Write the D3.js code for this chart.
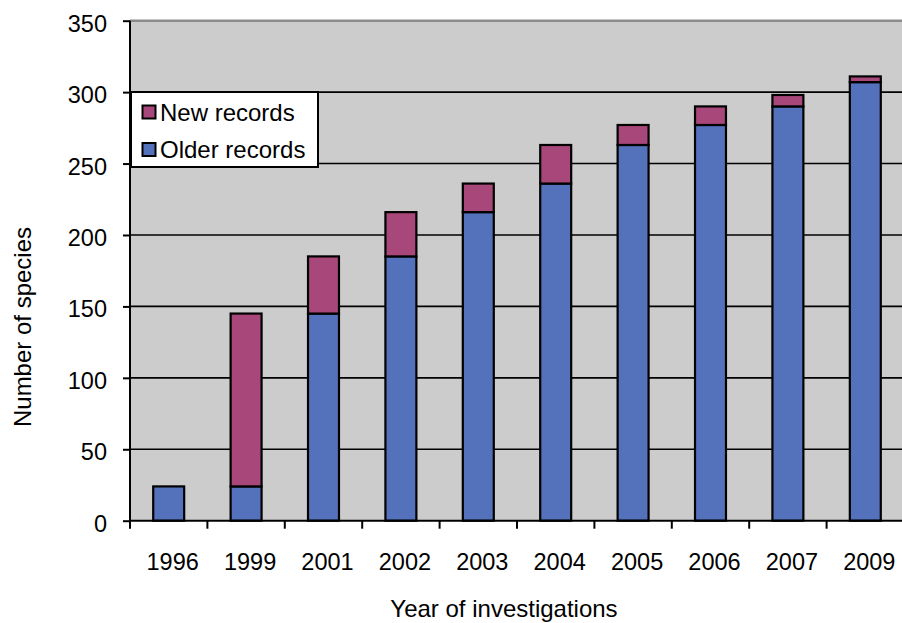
<!DOCTYPE html>
<html>
<head>
<meta charset="utf-8">
<script src="https://cdn.jsdelivr.net/npm/d3@7"></script>
<style>
  html, body { margin: 0; padding: 0; background: #fff; }
  svg { display: block; }
  text { font-family: "Liberation Sans", Arial, Helvetica, sans-serif; fill: #000; }
</style>
</head>
<body>
<svg id="chart" width="902" height="623"></svg>
<script>
const years = ["1996", "1999", "2001", "2002", "2003", "2004", "2005", "2006", "2007", "2009"];
const olderRecords = [24, 24, 145, 185, 216, 236, 263, 277, 290, 307];
const newRecords = [0, 121, 40, 31, 20, 27, 14, 13, 8, 4];
const yTicks = [0, 50, 100, 150, 200, 250, 300, 350];
const seriesNames = ["Older records", "New records"];
const seriesColors = ["#5472bb", "#a8477a"];

(function () {
const svg = d3.select("#chart");
const pLeft = 130, pRight = 904, pTop = 20.7, pBottom = 520.7;
const tickFont = 23.5, titleFont = 24;

const x = d3.scaleBand().domain(years).range([pLeft, pRight]).padding(0);
const y = d3.scaleLinear().domain([0, 350]).range([pBottom, pTop]);

// plot background
svg.append("rect")
  .attr("x", pLeft).attr("y", pTop)
  .attr("width", pRight - pLeft).attr("height", pBottom - pTop)
  .attr("fill", "#cccccc");

// gridlines
svg.append("g").selectAll("line")
  .data(yTicks.filter(d => d > 0 && d < 350))
  .join("line")
  .attr("x1", pLeft).attr("x2", pRight)
  .attr("y1", d => y(d)).attr("y2", d => y(d))
  .attr("stroke", "#000").attr("stroke-width", 1.6);

// top border
svg.append("line")
  .attr("x1", pLeft).attr("x2", pRight)
  .attr("y1", y(350)).attr("y2", y(350))
  .attr("stroke", "#8c8c8c").attr("stroke-width", 2.5);

// stacked bars
const data = years.map((yr, i) => ({ year: yr, older: olderRecords[i], newer: newRecords[i] }));
const stacked = d3.stack().keys(["older", "newer"])(data);
const bw = x.bandwidth() * 0.4;

svg.append("g").selectAll("g")
  .data(stacked)
  .join("g")
  .attr("fill", (d, i) => seriesColors[i])
  .selectAll("rect")
  .data(d => d.filter(s => s[1] - s[0] > 0))
  .join("rect")
  .attr("x", d => x(d.data.year) + (x.bandwidth() - bw) / 2)
  .attr("y", d => y(d[1]))
  .attr("width", bw)
  .attr("height", d => y(d[0]) - y(d[1]))
  .attr("stroke", "#000")
  .attr("stroke-width", 2.2);

// y axis
const yAxis = d3.axisLeft(y).tickValues(yTicks).tickSize(7).tickPadding(16);
const gy = svg.append("g").attr("transform", `translate(${pLeft},0)`).call(yAxis);
gy.select(".domain").attr("stroke", "#000").attr("stroke-width", 2).attr("d", `M0,${pTop}V${pBottom}`);
gy.selectAll(".tick line").attr("stroke", "#000").attr("stroke-width", 2);
gy.selectAll(".tick text")
  .attr("font-size", tickFont)
  .attr("font-family", "Liberation Sans, Arial, sans-serif")
  .attr("fill", "#000")
  .attr("dy", "0.45em");

// x axis
const gx = svg.append("g").attr("transform", `translate(0,${pBottom})`);
gx.append("line").attr("x1", pLeft).attr("x2", pRight).attr("y1", 0).attr("y2", 0)
  .attr("stroke", "#000").attr("stroke-width", 2);
const boundaries = years.map(yr => x(yr)).concat([x(years[years.length - 1]) + x.bandwidth()]);
gx.selectAll(".xtick").data(boundaries).join("line")
  .attr("x1", d => d).attr("x2", d => d).attr("y1", 0).attr("y2", 8)
  .attr("stroke", "#000").attr("stroke-width", 2);
gx.selectAll(".xlabel").data(years).join("text")
  .attr("x", d => x(d) + x.bandwidth() / 2 + 4)
  .attr("y", 49)
  .attr("text-anchor", "middle")
  .attr("font-size", tickFont)
  .text(d => d);

// axis titles
svg.append("text")
  .attr("x", 504).attr("y", 617)
  .attr("text-anchor", "middle").attr("font-size", titleFont)
  .text("Year of investigations");
svg.append("text")
  .attr("transform", "translate(31,327) rotate(-90)")
  .attr("text-anchor", "middle").attr("font-size", titleFont)
  .text("Number of species");

// legend
const lg = svg.append("g");
lg.append("rect").attr("x", 131).attr("y", 92).attr("width", 187).attr("height", 75)
  .attr("fill", "#fff").attr("stroke", "#000").attr("stroke-width", 2);
const legendItems = [
  { name: seriesNames[1], color: seriesColors[1], cy: 112 },
  { name: seriesNames[0], color: seriesColors[0], cy: 149.5 }
];
legendItems.forEach(it => {
  lg.append("rect").attr("x", 142.5).attr("y", it.cy - 6.5).attr("width", 13).attr("height", 13)
    .attr("fill", it.color).attr("stroke", "#000").attr("stroke-width", 2);
  lg.append("text").attr("x", 160).attr("y", it.cy + 8.5).attr("font-size", titleFont).text(it.name);
});
})();
</script>
</body>
</html>
